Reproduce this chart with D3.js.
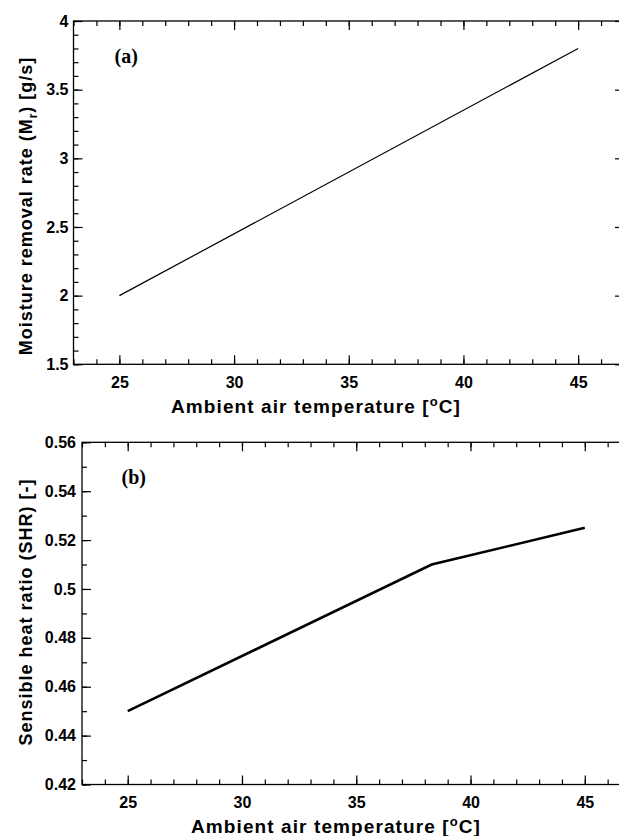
<!DOCTYPE html>
<html>
<head>
<meta charset="utf-8">
<script src="https://cdn.jsdelivr.net/npm/d3@7"></script>
<style>
  body { margin: 0; background: #fff; }
  svg { display: block; }
</style>
</head>
<body>
<svg id="chart"></svg>
<script>
// panel (a): moisture removal rate
const tempA = [25, 45];
const moistureA = [2.0, 3.8];
// panel (b): sensible heat ratio
const tempB = [25, 38.3, 45];
const shrB = [0.45, 0.51, 0.525];

const xTicks = [25, 30, 35, 40, 45];
const yTicksA = [1.5, 2, 2.5, 3, 3.5, 4];
const yTicksB = [0.42, 0.44, 0.46, 0.48, 0.5, 0.52, 0.54, 0.56];

const W = 619, H = 836;
const svg = d3.select('#chart').attr('width', W).attr('height', H);

const fmt = (d) => String(+d.toFixed(2));

function drawPanel(cfg) {
  const x = d3.scaleLinear().domain([23, 47]).range([cfg.left, cfg.right]);
  const y = d3.scaleLinear().domain(cfg.yDomain).range([cfg.bottom, cfg.top]);
  const g = svg.append('g');

  const minorX = d3.range(23, 47.001, 1);
  const minorY = d3.range(0, cfg.yMinorCount + 1).map((i) => cfg.yDomain[0] + i * cfg.yMinorStep);

  // all ticks point inward, on all four sides
  const addAxis = (axis, transform) => {
    const a = g.append('g').attr('transform', transform).call(axis);
    a.select('.domain').remove();
    a.selectAll('.tick line').attr('stroke', '#000').attr('stroke-width', 1.2);
    a.selectAll('.tick text')
      .attr('fill', '#000')
      .attr('font-family', "Arial, 'Liberation Sans', sans-serif")
      .attr('font-weight', 'bold')
      .attr('font-size', 16);
    return a;
  };
  addAxis(d3.axisBottom(x).tickValues(minorX).tickSize(-5).tickFormat(''), `translate(0,${cfg.bottom})`);
  addAxis(d3.axisTop(x).tickValues(minorX).tickSize(-5).tickFormat(''), `translate(0,${cfg.top})`);
  addAxis(d3.axisLeft(y).tickValues(minorY).tickSize(-5).tickFormat(''), `translate(${cfg.left},0)`);
  addAxis(d3.axisRight(y).tickValues(minorY).tickSize(-5).tickFormat(''), `translate(${cfg.right},0)`);

  addAxis(d3.axisBottom(x).tickValues(xTicks).tickSize(-9).tickPadding(12).tickFormat(fmt), `translate(0,${cfg.bottom})`);
  addAxis(d3.axisTop(x).tickValues(xTicks).tickSize(-9).tickFormat(''), `translate(0,${cfg.top})`);
  addAxis(d3.axisLeft(y).tickValues(cfg.yTicks).tickSize(-9).tickPadding(cfg.yPad).tickFormat(fmt), `translate(${cfg.left},0)`);
  addAxis(d3.axisRight(y).tickValues(cfg.yTicks).tickSize(-9).tickFormat(''), `translate(${cfg.right},0)`);

  // frame
  g.append('rect')
    .attr('x', cfg.left).attr('y', cfg.top)
    .attr('width', cfg.right - cfg.left).attr('height', cfg.bottom - cfg.top)
    .attr('fill', 'none').attr('stroke', '#000').attr('stroke-width', 1.3);

  // data line
  const pts = cfg.xs.map((d, i) => [d, cfg.ys[i]]);
  g.append('path')
    .datum(pts)
    .attr('fill', 'none')
    .attr('stroke', '#000')
    .attr('stroke-width', cfg.lineWidth)
    .attr('d', d3.line().x((d) => x(d[0])).y((d) => y(d[1])));

  // panel letter
  g.append('text')
    .attr('x', cfg.left + cfg.tagDx).attr('y', cfg.top + cfg.tagDy)
    .attr('font-family', "'Times New Roman', 'Liberation Serif', serif")
    .attr('font-weight', 'bold').attr('font-size', 20)
    .text(cfg.tag);

  // x title
  const xt = g.append('text')
    .attr('x', cfg.xTitleX).attr('y', cfg.bottom + cfg.xTitleDy)
    .attr('text-anchor', 'middle')
    .attr('font-family', "Arial, 'Liberation Sans', sans-serif")
    .attr('font-weight', 'bold').attr('font-size', 19)
    .attr('letter-spacing', 1.1);
  xt.append('tspan').text('Ambient air temperature [');
  xt.append('tspan').attr('font-size', 13).attr('dy', -7).text('o');
  xt.append('tspan').attr('dy', 7).text('C]');

  // y title
  const yt = g.append('text')
    .attr('transform', `translate(${cfg.yTitleX},${cfg.yTitleY}) rotate(-90)`)
    .attr('text-anchor', 'middle')
    .attr('font-family', "Arial, 'Liberation Sans', sans-serif")
    .attr('font-weight', 'bold').attr('font-size', 18)
    .attr('letter-spacing', 1);
  cfg.yTitle(yt);
}

drawPanel({
  left: 73.5, right: 624, top: 21, bottom: 364.3,
  yDomain: [1.5, 4], yTicks: yTicksA, yMinorStep: 0.1, yMinorCount: 25, yPad: 5,
  xs: tempA, ys: moistureA, lineWidth: 1.2,
  tag: '(a)', tagDx: 41, tagDy: 41.5,
  xTitleX: 316, xTitleDy: 49,
  yTitleX: 32, yTitleY: 206,
  yTitle: (t) => {
    t.append('tspan').text('Moisture removal rate (M');
    t.append('tspan').attr('font-size', 12).attr('dy', 5).text('r');
    t.append('tspan').attr('dy', -5).text(') [g/s]');
  },
});

drawPanel({
  left: 82, right: 630.5, top: 442.3, bottom: 784.5,
  yDomain: [0.42, 0.56], yTicks: yTicksB, yMinorStep: 0.01, yMinorCount: 14, yPad: 6,
  xs: tempB, ys: shrB, lineWidth: 2.6,
  tag: '(b)', tagDx: 39.5, tagDy: 42,
  xTitleX: 336, xTitleDy: 48.5,
  yTitleX: 32, yTitleY: 612,
  yTitle: (t) => {
    t.append('tspan').text('Sensible heat ratio (SHR) [-]');
  },
});
</script>
</body>
</html>
